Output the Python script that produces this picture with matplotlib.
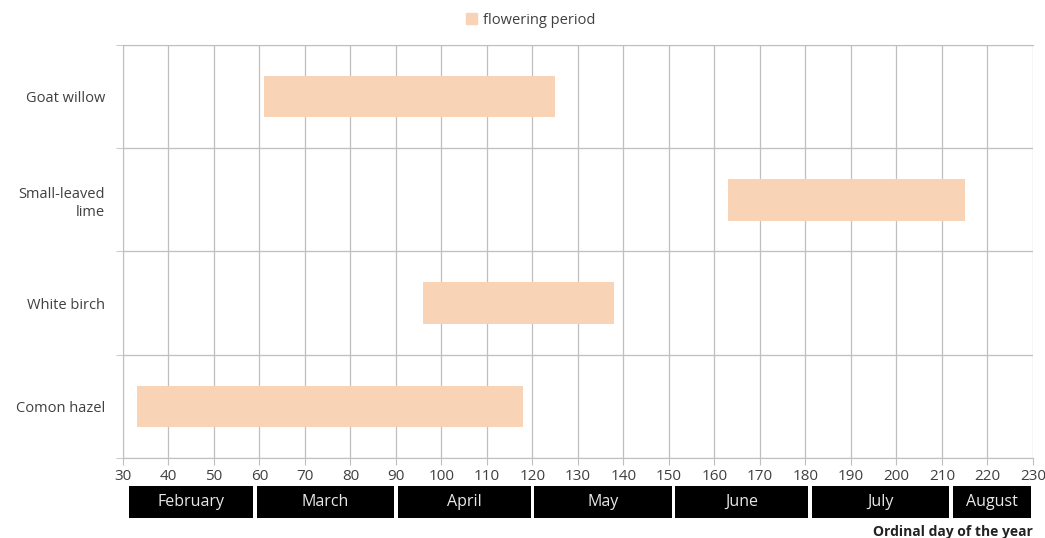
import matplotlib.pyplot as plt
import matplotlib.transforms as mtransforms
from matplotlib.patches import Rectangle, Patch

# Data
species = ['Comon hazel', 'White birch', 'Small-leaved\nlime', 'Goat willow']
start_day = [33, 96, 163, 61]
end_day = [118, 138, 215, 125]

months = ['February', 'March', 'April', 'May', 'June', 'July', 'August']
month_start = [32, 60, 91, 121, 152, 182, 213]
month_end = [59, 90, 120, 151, 181, 212, 230]

plt.rcParams['font.family'] = ['Open Sans', 'DejaVu Sans']

fig = plt.figure(figsize=(10.45, 5.38), dpi=100)
ax = fig.add_axes([0.1177, 0.1487, 0.8708, 0.7677])

bar_color = '#F9D3B6'
grid_color = '#BFBFBF'
text_color = '#404040'

widths = [e - s for s, e in zip(start_day, end_day)]
ax.barh(range(len(species)), widths, left=start_day, height=0.4,
        color=bar_color, zorder=3)

ax.set_xlim(30, 230)
ax.set_ylim(-0.5, len(species) - 0.5)
ax.set_xticks(range(30, 231, 10))
ax.set_yticks(range(len(species)))
ax.set_yticklabels(species, color=text_color, fontsize=10.5, linespacing=1.3)
ax.set_yticks([i + 0.5 for i in range(-1, len(species))], minor=True)
ax.tick_params(axis='y', which='major', length=0, pad=13)
ax.tick_params(axis='y', which='minor', length=5, color=grid_color)
ax.tick_params(axis='x', length=5, color=grid_color, labelsize=11,
               labelcolor=text_color, pad=3)

ax.grid(True, axis='x', color=grid_color, linewidth=0.9, zorder=0)
ax.grid(True, axis='y', which='minor', color=grid_color, linewidth=0.9, zorder=0)
for side in ['left', 'bottom', 'top', 'right']:
    ax.spines[side].set_color(grid_color)
ax.spines['right'].set_visible(False)
ax.set_axisbelow(True)

# Month boxes under the axis, with small white gaps between them
trans = mtransforms.blended_transform_factory(ax.transData, ax.transAxes)
for name, s, e in zip(months, month_start, month_end):
    x0 = s - 0.6
    x1 = e - 0.4
    rect = Rectangle((x0, -0.145), x1 - x0, 0.077, transform=trans,
                     facecolor='black', edgecolor='none', clip_on=False)
    ax.add_patch(rect)
    ax.text((x0 + x1) / 2, -0.107, name, transform=trans, ha='center',
            va='center', color='#E8E8E8', fontsize=11.5)

fig.text(0.988, 0.011, 'Ordinal day of the year', ha='right', va='center',
         fontsize=10, fontweight='bold', color='#222222')

ax.legend(handles=[Patch(color=bar_color, label='flowering period')],
          loc='center', bbox_to_anchor=(0.448, 1.06), frameon=False,
          fontsize=10.5, handlelength=0.8, handleheight=0.8, handletextpad=0.4,
          labelcolor=text_color)

fig.savefig('out.png', dpi=100)
